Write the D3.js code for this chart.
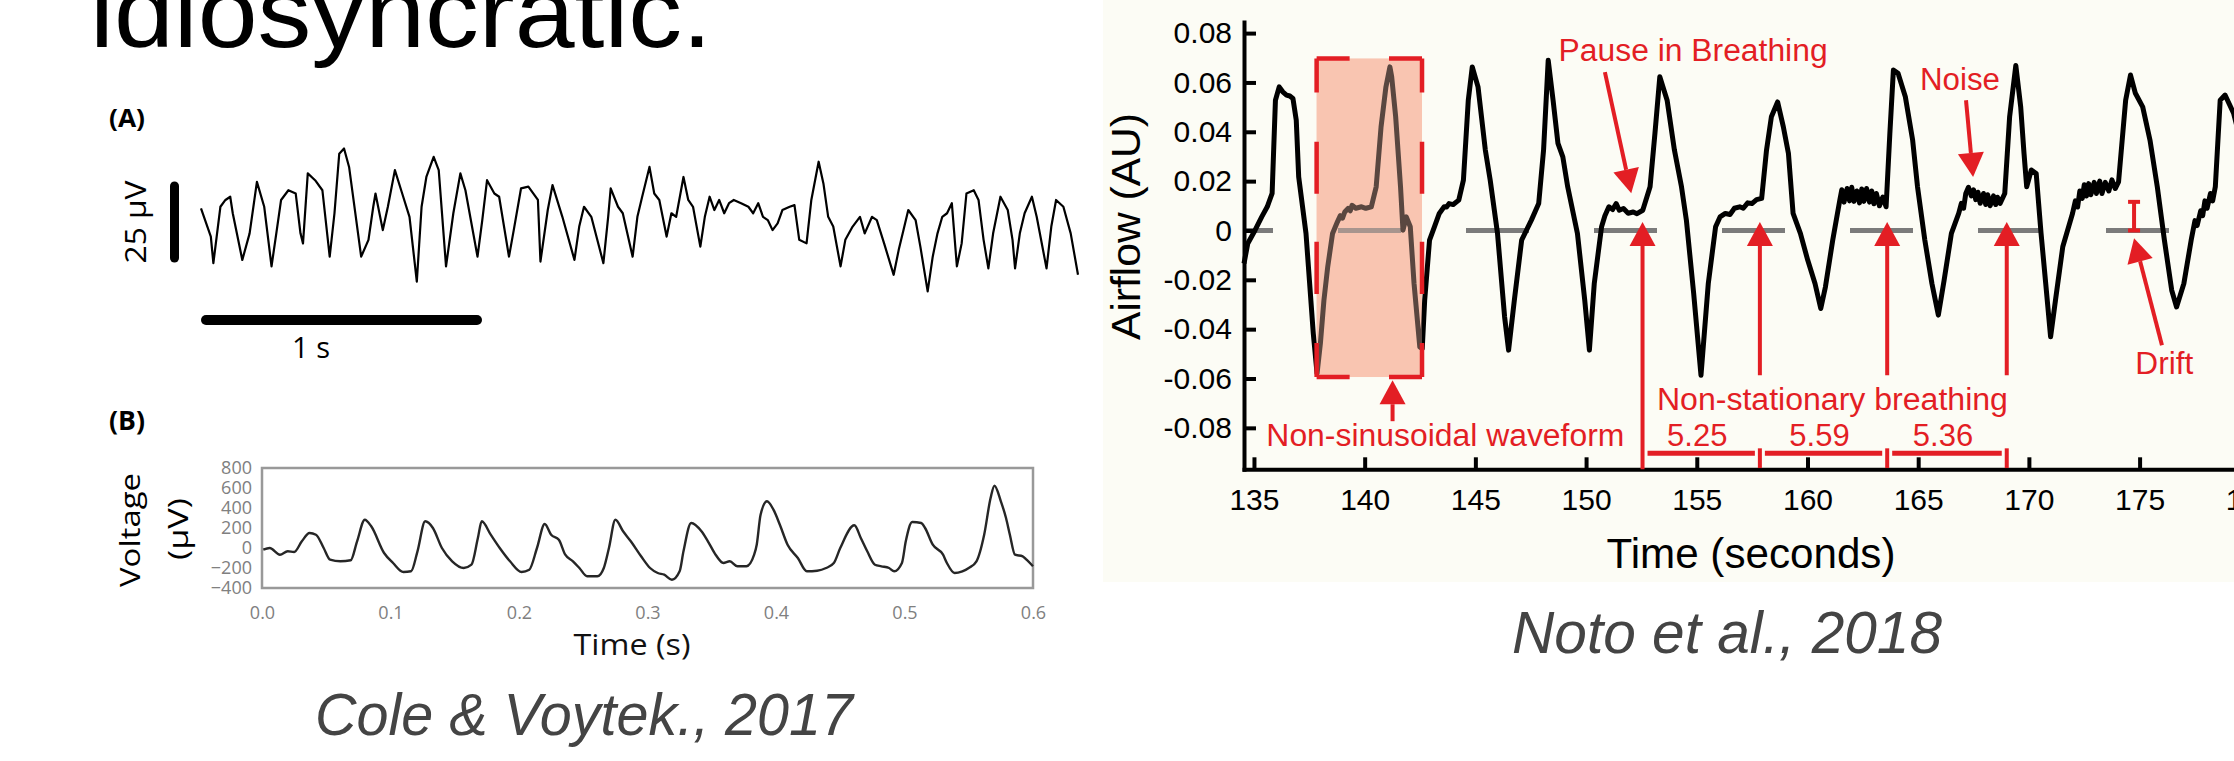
<!DOCTYPE html>
<html>
<head>
<meta charset="utf-8">
<script src="https://cdn.jsdelivr.net/npm/d3@7"></script>
<style>
body { margin: 0; background: #fff; }
svg { display: block; }
</style>
</head>
<body>
<script>
// ---- data ----
// (A) raw EEG, [time s, voltage uV]
var eegA = [
[0.000,4.2],[0.035,-4.5],[0.044,-12.7],[0.069,4.7],[0.087,6.8],[0.104,7.8],[0.113,2.7],[0.147,-11.7],[0.173,-3.5],[0.199,12.4],
[0.225,4.7],[0.251,-13.7],[0.268,-3.5],[0.285,6.8],[0.311,9.8],[0.337,8.8],[0.354,-3.5],[0.363,-6.6],[0.380,15.0],[0.406,12.9],
[0.432,9.8],[0.458,-10.7],[0.475,2.7],[0.492,21.1],[0.509,22.7],[0.527,17.0],[0.570,-10.7],[0.596,-5.5],[0.613,4.7],[0.621,8.8],
[0.647,-2.5],[0.665,4.7],[0.690,16.0],[0.716,8.8],[0.742,1.6],[0.768,-18.4],[0.785,4.7],[0.802,13.9],[0.828,20.1],[0.846,16.0],
[0.872,-13.7],[0.898,2.7],[0.923,15.0],[0.941,9.8],[0.984,-10.7],[1.001,0.6],[1.018,12.9],[1.044,8.8],[1.061,7.8],[1.096,-10.7],
[1.113,-2.5],[1.139,10.4],[1.165,10.9],[1.199,6.8],[1.208,-12.2],[1.234,3.7],[1.251,11.4],[1.286,1.6],[1.329,-11.7],[1.346,-1.4],
[1.363,4.7],[1.389,1.6],[1.432,-12.7],[1.449,1.6],[1.458,10.4],[1.484,4.7],[1.501,2.7],[1.536,-10.7],[1.553,1.6],[1.570,7.8],
[1.596,17.0],[1.613,8.8],[1.631,6.8],[1.657,-4.5],[1.674,2.7],[1.691,1.6],[1.717,13.9],[1.734,6.8],[1.751,4.7],[1.777,-7.6],
[1.793,1.6],[1.810,7.8],[1.827,3.7],[1.844,6.8],[1.862,2.7],[1.879,5.8],[1.896,6.8],[1.922,5.8],[1.948,4.7],[1.965,2.7],
[1.983,5.8],[2.000,1.6],[2.017,0.6],[2.034,-2.5],[2.052,-0.4],[2.069,3.7],[2.095,4.7],[2.112,5.2],[2.129,-5.5],[2.155,-6.6],
[2.172,6.8],[2.198,18.6],[2.215,11.9],[2.232,1.6],[2.250,-1.4],[2.276,-13.7],[2.293,-5.5],[2.319,-1.4],[2.345,1.6],[2.362,-3.5],
[2.388,1.6],[2.405,0.6],[2.431,-6.6],[2.465,-16.3],[2.483,-8.6],[2.500,-2.5],[2.517,3.7],[2.543,0.6],[2.560,-7.6],[2.586,-21.4],
[2.604,-10.7],[2.621,-3.5],[2.638,1.6],[2.655,2.7],[2.672,5.8],[2.690,-13.7],[2.707,-6.6],[2.724,8.8],[2.750,9.8],[2.767,6.8],
[2.785,-5.5],[2.802,-14.3],[2.819,-3.5],[2.845,7.8],[2.871,3.7],[2.888,-5.5],[2.897,-14.3],[2.914,-3.5],[2.931,2.7],[2.957,7.8],
[2.974,1.6],[3.009,-14.3],[3.026,-1.4],[3.043,6.8],[3.069,4.7],[3.095,-3.5],[3.121,-16.3]
];

// (B) beta waveform, [time s, voltage uV]
var eegB = [
[0.001,-17],[0.006,0],[0.014,-67],[0.020,-33],[0.025,-40],[0.031,67],[0.037,150],[0.042,133],[0.048,0],[0.053,-117],
[0.061,-133],[0.069,-123],[0.074,67],[0.080,283],[0.085,217],[0.095,-50],[0.102,-150],[0.110,-240],[0.116,-233],[0.121,-33],
[0.127,267],[0.133,200],[0.140,0],[0.148,-133],[0.157,-200],[0.163,-167],[0.168,100],[0.171,267],[0.178,133],[0.185,0],
[0.193,-133],[0.202,-240],[0.208,-217],[0.214,0],[0.220,240],[0.225,133],[0.231,83],[0.236,-67],[0.242,-133],[0.247,-200],
[0.253,-283],[0.261,-283],[0.266,-200],[0.270,0],[0.275,283],[0.281,167],[0.287,67],[0.295,-83],[0.302,-200],[0.308,-250],
[0.313,-267],[0.319,-317],[0.325,-233],[0.328,-33],[0.334,250],[0.342,167],[0.347,67],[0.353,-67],[0.359,-150],[0.364,-133],
[0.370,-183],[0.377,-183],[0.383,-67],[0.385,33],[0.388,333],[0.393,467],[0.398,383],[0.403,233],[0.409,33],[0.417,-100],
[0.424,-233],[0.432,-227],[0.439,-200],[0.445,-150],[0.450,0],[0.461,227],[0.466,100],[0.471,-33],[0.477,-167],[0.482,-183],
[0.488,-200],[0.492,-233],[0.498,-150],[0.501,67],[0.506,260],[0.513,250],[0.516,200],[0.522,33],[0.530,-67],[0.533,-150],
[0.539,-250],[0.545,-233],[0.550,-200],[0.556,-133],[0.562,133],[0.567,500],[0.570,623],[0.575,467],[0.579,300],[0.582,133],
[0.586,-67],[0.592,-83],[0.595,-117],[0.600,-183]
];
var yTicksB = [800, 600, 400, 200, 0, -200, -400];
var xTicksB = [0, 0.1, 0.2, 0.3, 0.4, 0.5, 0.6];

// Noto et al. airflow, [time s, airflow AU]
var airflow = [
[134.55,-0.0134],[134.72,-0.0053],[135.05,0.0001],[135.35,0.0055],[135.60,0.0096],[135.82,0.0150],[135.97,0.0528],[136.14,0.0582],
[136.30,0.0562],[136.47,0.0549],[136.62,0.0545],[136.76,0.0535],[136.91,0.0447],[137.02,0.0217],[137.35,-0.0012],[137.68,-0.0418],
[137.85,-0.0580],[138.00,-0.0458],[138.16,-0.0283],[138.33,-0.0148],[138.55,-0.0012],[138.77,0.0035],[138.90,0.0060],[139.00,0.0050],
[139.10,0.0075],[139.25,0.0089],[139.35,0.0080],[139.43,0.0102],[139.60,0.0090],[139.86,0.0096],[140.05,0.0090],[140.30,0.0096],
[140.52,0.0177],[140.74,0.0420],[140.96,0.0582],[141.14,0.0663],[141.22,0.0623],[141.40,0.0461],[141.62,0.0177],[141.73,0.0001],
[141.88,0.0055],[142.06,0.0015],[142.23,-0.0215],[142.49,-0.0472],[142.60,-0.0479],[142.71,-0.0283],[142.93,-0.0039],[143.15,0.0015],
[143.37,0.0069],[143.50,0.0085],[143.59,0.0096],[143.70,0.0095],[143.81,0.0109],[144.00,0.0105],[144.25,0.0123],[144.46,0.0204],
[144.68,0.0528],[144.86,0.0663],[145.12,0.0582],[145.45,0.0326],[145.67,0.0204],[146.00,-0.0012],[146.32,-0.0350],[146.50,-0.0485],
[146.76,-0.0283],[147.09,-0.0039],[147.53,0.0042],[147.86,0.0109],[148.08,0.0326],[148.29,0.0690],[148.51,0.0528],[148.73,0.0353],
[148.95,0.0298],[149.17,0.0177],[149.61,-0.0012],[149.94,-0.0283],[150.15,-0.0485],[150.37,-0.0215],[150.70,0.0015],[150.85,0.0060],
[151.03,0.0096],[151.20,0.0085],[151.36,0.0109],[151.50,0.0082],[151.69,0.0089],[151.90,0.0070],[152.13,0.0075],[152.30,0.0068],
[152.56,0.0082],[152.89,0.0177],[153.11,0.0393],[153.33,0.0623],[153.66,0.0528],[153.99,0.0326],[154.31,0.0177],[154.53,0.0042],
[154.86,-0.0255],[155.19,-0.0587],[155.52,-0.0215],[155.85,0.0015],[156.05,0.0055],[156.29,0.0069],[156.50,0.0065],[156.70,0.0090],
[156.94,0.0096],[157.10,0.0090],[157.30,0.0112],[157.49,0.0109],[157.70,0.0125],[157.93,0.0130],[158.15,0.0326],[158.37,0.0461],
[158.65,0.0521],[158.91,0.0420],[159.14,0.0312],[159.35,0.0069],[159.68,-0.0012],[160.01,-0.0120],[160.34,-0.0215],[160.60,-0.0316],
[160.81,-0.0229],[161.14,-0.0039],[161.46,0.0123],[161.55,0.0165],[161.65,0.0115],[161.79,0.0170],[161.90,0.0120],[162.00,0.0175],
[162.10,0.0118],[162.23,0.0160],[162.35,0.0112],[162.45,0.0168],[162.55,0.0118],[162.67,0.0170],[162.80,0.0115],[162.90,0.0160],
[163.00,0.0108],[163.11,0.0150],[163.25,0.0100],[163.40,0.0135],[163.55,0.0096],[163.72,0.0393],[163.88,0.0650],[164.09,0.0637],
[164.42,0.0542],[164.75,0.0366],[164.97,0.0177],[165.30,-0.0039],[165.62,-0.0215],[165.91,-0.0343],[166.17,-0.0202],[166.50,-0.0012],
[166.83,0.0069],[166.95,0.0110],[167.05,0.0090],[167.15,0.0150],[167.27,0.0175],[167.40,0.0140],[167.50,0.0165],[167.60,0.0125],
[167.70,0.0155],[167.80,0.0110],[167.95,0.0150],[168.05,0.0105],[168.14,0.0145],[168.25,0.0100],[168.40,0.0140],[168.50,0.0105],
[168.58,0.0135],[168.70,0.0110],[168.91,0.0150],[169.13,0.0461],[169.41,0.0669],[169.63,0.0501],[169.78,0.0312],[169.90,0.0177],
[170.11,0.0245],[170.33,0.0231],[170.55,-0.0012],[170.76,-0.0215],[170.98,-0.0431],[171.20,-0.0283],[171.53,-0.0066],[171.97,0.0069],
[172.10,0.0120],[172.20,0.0095],[172.30,0.0160],[172.41,0.0130],[172.50,0.0185],[172.60,0.0140],[172.70,0.0190],[172.80,0.0145],
[172.95,0.0195],[173.05,0.0150],[173.20,0.0200],[173.30,0.0150],[173.45,0.0195],[173.61,0.0160],[173.75,0.0205],[173.90,0.0170],
[174.05,0.0197],[174.37,0.0528],[174.59,0.0630],[174.81,0.0556],[175.14,0.0501],[175.47,0.0366],[175.80,0.0177],[176.12,-0.0039],
[176.45,-0.0242],[176.67,-0.0310],[177.00,-0.0215],[177.33,-0.0039],[177.50,0.0040],[177.60,0.0020],[177.76,0.0080],[177.85,0.0060],
[177.95,0.0120],[178.05,0.0090],[178.20,0.0150],[178.30,0.0120],[178.42,0.0177],[178.64,0.0528],[178.86,0.0549],[179.25,0.0474],
[179.60,0.0350]
];
var yTicksN = [0.08, 0.06, 0.04, 0.02, 0, -0.02, -0.04, -0.06, -0.08];
var xTicksN = [135, 140, 145, 150, 155, 160, 165, 170, 175, 180];

// annotations, in data units
var boxT = [137.83, 142.59], boxV = [-0.0594, 0.0697];
var periodMarks = [152.55, 157.85, 163.6, 169.0];
var periodLabels = ['5.25', '5.59', '5.36'];

var W = 2234, H = 761;
var RED = '#e31e24';
var SANS = 'Liberation Sans, Arial, Helvetica, sans-serif';
var HUM = 'Open Sans, Lato, sans-serif';

var svg = d3.select('body').append('svg')
    .attr('width', W)
    .attr('height', H);

svg.append('rect').attr('width', W).attr('height', H).attr('fill', '#fff');

// title (cut off at the top)
svg.append('text')
    .attr('x', 90).attr('y', 47)
    .attr('font-family', SANS).attr('font-size', 100)
    .attr('textLength', 622).attr('lengthAdjust', 'spacingAndGlyphs')
    .attr('fill', '#000')
    .text('idiosyncratic.');

// ---------- panel A ----------
var xA = d3.scaleLinear().domain([0, 1]).range([201, 482]),
    yA = d3.scaleLinear().domain([-12.5, 12.5]).range([262.5, 181.5]);

svg.append('text').attr('x', 109).attr('y', 127)
    .attr('font-family', HUM).attr('font-weight', 'bold').attr('font-size', 25)
    .attr('textLength', 36).attr('lengthAdjust', 'spacingAndGlyphs')
    .text('(A)');

svg.append('rect')
    .attr('x', 170).attr('width', 9)
    .attr('y', yA(12.5)).attr('height', yA(-12.5) - yA(12.5))
    .attr('rx', 4.5).attr('fill', '#000');

svg.append('text')
    .attr('transform', 'translate(146,222) rotate(-90)')
    .attr('text-anchor', 'middle')
    .attr('font-family', HUM).attr('font-size', 29)
    .attr('textLength', 83).attr('lengthAdjust', 'spacingAndGlyphs')
    .text('25 μV');

svg.append('rect')
    .attr('x', xA(0)).attr('width', xA(1) - xA(0))
    .attr('y', 315).attr('height', 10)
    .attr('rx', 5).attr('fill', '#000');

svg.append('text').attr('x', 311).attr('y', 358)
    .attr('text-anchor', 'middle')
    .attr('font-family', HUM).attr('font-size', 29)
    .text('1 s');

var lineA = d3.line()
    .x(function (d) { return xA(d[0]); })
    .y(function (d) { return yA(d[1]); });

svg.append('path')
    .datum(eegA)
    .attr('d', lineA)
    .attr('fill', 'none')
    .attr('stroke', '#000')
    .attr('stroke-width', 2.2)
    .attr('stroke-linejoin', 'round');

// ---------- panel B ----------
var xB = d3.scaleLinear().domain([0, 0.6]).range([262, 1033]),
    yB = d3.scaleLinear().domain([-400, 800]).range([588, 468]);

svg.append('text').attr('x', 109).attr('y', 430)
    .attr('font-family', HUM).attr('font-weight', 'bold').attr('font-size', 26)
    .attr('textLength', 36).attr('lengthAdjust', 'spacingAndGlyphs')
    .text('(B)');

var gyB = svg.append('g')
    .attr('transform', 'translate(262,0)')
    .call(d3.axisLeft(yB).tickValues(yTicksB).tickSize(0).tickPadding(10)
        .tickFormat(function (d) { return d < 0 ? '\u2212' + (-d) : '' + d; }));
var gxB = svg.append('g')
    .attr('transform', 'translate(0,588)')
    .call(d3.axisBottom(xB).tickValues(xTicksB).tickSize(0).tickPadding(18)
        .tickFormat(d3.format('.1f')));
[gyB, gxB].forEach(function (g) {
    g.select('.domain').remove();
    g.selectAll('text')
        .attr('font-family', HUM).attr('font-size', 18)
        .attr('fill', '#808080');
});

svg.append('rect')
    .attr('x', xB(0)).attr('y', yB(800))
    .attr('width', xB(0.6) - xB(0)).attr('height', yB(-400) - yB(800))
    .attr('fill', 'none').attr('stroke', '#999').attr('stroke-width', 2.5);

var lineB = d3.line()
    .curve(d3.curveMonotoneX)
    .x(function (d) { return xB(d[0]); })
    .y(function (d) { return yB(d[1]); });

svg.append('path')
    .datum(eegB)
    .attr('d', lineB)
    .attr('fill', 'none')
    .attr('stroke', '#262626')
    .attr('stroke-width', 2.4);

svg.append('text')
    .attr('transform', 'translate(140,530) rotate(-90)')
    .attr('text-anchor', 'middle')
    .attr('font-family', HUM).attr('font-size', 28)
    .attr('textLength', 114).attr('lengthAdjust', 'spacingAndGlyphs')
    .text('Voltage');
svg.append('text')
    .attr('transform', 'translate(188,529) rotate(-90)')
    .attr('text-anchor', 'middle')
    .attr('font-family', HUM).attr('font-size', 28)
    .attr('textLength', 62).attr('lengthAdjust', 'spacingAndGlyphs')
    .text('(μV)');
svg.append('text')
    .attr('x', 632).attr('y', 655)
    .attr('text-anchor', 'middle')
    .attr('font-family', HUM).attr('font-size', 30)
    .attr('textLength', 117).attr('lengthAdjust', 'spacingAndGlyphs')
    .attr('fill', '#111')
    .text('Time (s)');

svg.append('text')
    .attr('x', 315).attr('y', 735)
    .attr('font-family', SANS).attr('font-style', 'italic').attr('font-size', 60)
    .attr('textLength', 538).attr('lengthAdjust', 'spacingAndGlyphs')
    .attr('fill', '#444')
    .text('Cole & Voytek., 2017');

// ---------- Noto et al. panel ----------
var xN = d3.scaleLinear().domain([134.55, 180]).range([1244, 2250.3]),
    yN = d3.scaleLinear().domain([-0.0968, 0.0845]).range([469.3, 22]);

svg.append('rect')
    .attr('x', 1103).attr('y', 0).attr('width', W - 1103).attr('height', 582)
    .attr('fill', '#fcfcf5');

var bx0 = xN(boxT[0]), bx1 = xN(boxT[1]), by0 = yN(boxV[1]), by1 = yN(boxV[0]);
svg.append('rect')
    .attr('x', bx0).attr('y', by0).attr('width', bx1 - bx0).attr('height', by1 - by0)
    .attr('fill', '#f9c5b1');

svg.append('line')
    .attr('x1', 1244).attr('x2', W)
    .attr('y1', yN(0)).attr('y2', yN(0))
    .attr('stroke', '#7b7b7b').attr('stroke-width', 5)
    .attr('stroke-dasharray', '63,65').attr('stroke-dashoffset', 34);

var lineN = d3.line()
    .x(function (d) { return xN(d[0]); })
    .y(function (d) { return yN(d[1]); });

svg.append('path')
    .datum(airflow)
    .attr('d', lineN)
    .attr('fill', 'none')
    .attr('stroke', '#000')
    .attr('stroke-width', 5)
    .attr('stroke-linejoin', 'round');

// tint over the trace inside the box
svg.append('rect')
    .attr('x', bx0).attr('y', by0).attr('width', bx1 - bx0).attr('height', by1 - by0)
    .attr('fill', '#f9c5b1').attr('opacity', 0.36);

// axes
var gyN = svg.append('g')
    .attr('transform', 'translate(1244,0)')
    .call(d3.axisLeft(yN).tickValues(yTicksN).tickSizeInner(-12).tickSizeOuter(0).tickPadding(12)
        .tickFormat(function (d) { return d === 0 ? '0' : d.toFixed(2); }));
var gxN = svg.append('g')
    .attr('transform', 'translate(0,469.3)')
    .call(d3.axisBottom(xN).tickValues(xTicksN).tickSizeInner(-12).tickSizeOuter(0).tickPadding(19));
[gyN, gxN].forEach(function (g) {
    g.select('.domain').attr('stroke', '#000').attr('stroke-width', 4).attr('stroke-linecap', 'square');
    g.selectAll('.tick line').attr('stroke', '#000').attr('stroke-width', 4);
    g.selectAll('text').attr('font-family', SANS).attr('font-size', 30).attr('fill', '#000');
});

svg.append('text')
    .attr('transform', 'translate(1140,226.5) rotate(-90)')
    .attr('text-anchor', 'middle')
    .attr('font-family', SANS).attr('font-size', 41)
    .attr('textLength', 227).attr('lengthAdjust', 'spacingAndGlyphs')
    .text('Airflow (AU)');
svg.append('text')
    .attr('x', 1751).attr('y', 568)
    .attr('text-anchor', 'middle')
    .attr('font-family', SANS).attr('font-size', 42)
    .attr('textLength', 289).attr('lengthAdjust', 'spacingAndGlyphs')
    .text('Time (seconds)');

svg.append('text')
    .attr('x', 1512).attr('y', 653)
    .attr('font-family', SANS).attr('font-style', 'italic').attr('font-size', 60)
    .attr('textLength', 430).attr('lengthAdjust', 'spacingAndGlyphs')
    .attr('fill', '#444')
    .text('Noto et al., 2018');

// ---------- red annotations ----------
var ann = svg.append('g');

function redLine(x1, y1, x2, y2, w, dash) {
    var l = ann.append('line')
        .attr('x1', x1).attr('y1', y1).attr('x2', x2).attr('y2', y2)
        .attr('stroke', RED).attr('stroke-width', w || 4);
    if (dash) l.attr('stroke-dasharray', dash);
    return l;
}

function arrow(x1, y1, x2, y2) {
    var len = 24, half = 13;
    var a = Math.atan2(y2 - y1, x2 - x1);
    var bx = x2 - len * Math.cos(a), by = y2 - len * Math.sin(a);
    redLine(x1, y1, bx, by, 4);
    ann.append('path')
        .attr('d', 'M' + x2 + ',' + y2 +
            'L' + (bx + half * Math.sin(a)) + ',' + (by - half * Math.cos(a)) +
            'L' + (bx - half * Math.sin(a)) + ',' + (by + half * Math.cos(a)) + 'Z')
        .attr('fill', RED);
}

function redText(t, v, s, len, anchor) {
    ann.append('text')
        .attr('x', xN(t)).attr('y', yN(v))
        .attr('text-anchor', anchor || 'start')
        .attr('font-family', SANS).attr('font-size', 31)
        .attr('fill', RED)
        .attr('textLength', len).attr('lengthAdjust', 'spacingAndGlyphs')
        .text(s);
}

// dashed box border
var bw = bx1 - bx0, bh = by1 - by0;
redLine(bx0, by0, bx1, by0, 4.5, '33,' + (bw - 66) + ',33');
redLine(bx0, by1, bx1, by1, 4.5, '33,' + (bw - 66) + ',33');
var vd = [34, 49, 52, 48, 52, 49].map(function (d) { return d * bh / 318; }).join(',') + ',' + bh;
redLine(bx0, by0, bx0, by1, 4.5, vd);
redLine(bx1, by0, bx1, by1, 4.5, vd);

arrow(xN(141.26), yN(-0.0773), xN(141.26), yN(-0.0607));
redText(135.56, -0.0875, 'Non-sinusoidal waveform', 358);

// pause / noise / drift
redText(148.76, 0.0687, 'Pause in Breathing', 269);
arrow(xN(150.85), yN(0.0642), xN(152.04), yN(0.0151));
redText(165.08, 0.0569, 'Noise', 80);
arrow(xN(167.16), yN(0.0528), xN(167.48), yN(0.0217));
redText(174.81, -0.0583, 'Drift', 58);
arrow(xN(176.01), yN(-0.0465), xN(174.75), yN(-0.0031));
redLine(xN(174.75), yN(0), xN(174.75), yN(0.0116), 4);
redLine(xN(174.75) - 6, yN(0.0116), xN(174.75) + 6, yN(0.0116), 4);
redLine(xN(174.75) - 6, yN(0), xN(174.75) + 6, yN(0), 4);

// breathing period markers
periodMarks.forEach(function (t, i) {
    arrow(xN(t), yN(i === 0 ? -0.0968 : -0.0587), xN(t), yN(0.0034));
    if (i > 0) redLine(xN(t), yN(-0.0883), xN(t), yN(-0.0963), 4);
});
periodLabels.forEach(function (s, i) {
    var a = xN(periodMarks[i]), b = xN(periodMarks[i + 1]);
    redLine(a + 5, yN(-0.0903), b - 5, yN(-0.0903), 5);
    ann.append('text')
        .attr('x', (a + b) / 2 - 4).attr('y', yN(-0.0875))
        .attr('text-anchor', 'middle')
        .attr('font-family', SANS).attr('font-size', 31)
        .attr('fill', RED)
        .text(s);
});
redText(153.2, -0.0729, 'Non-stationary breathing', 351);
</script>
</body>
</html>
